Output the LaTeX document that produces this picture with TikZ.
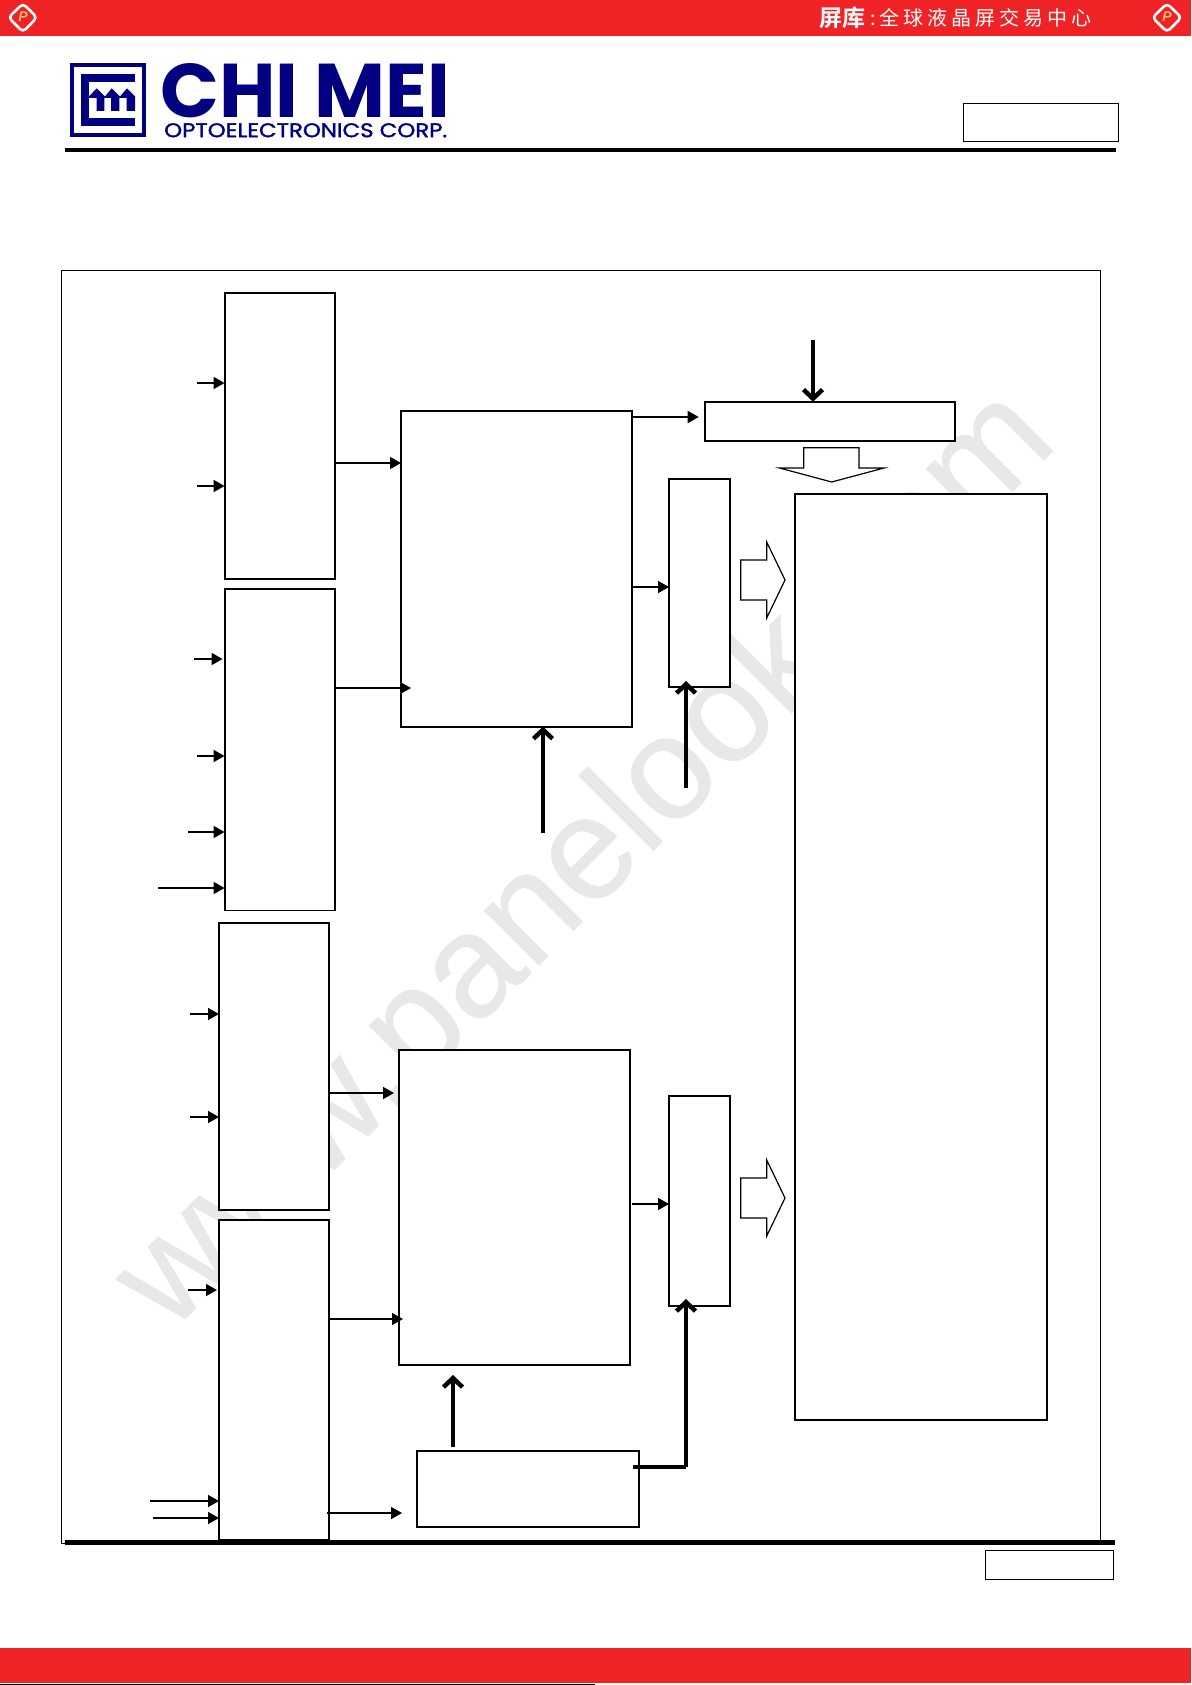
\documentclass[tikz,border=0pt]{standalone}
\usepackage{fontspec}
\usetikzlibrary{arrows.meta}
\setmainfont{Liberation Sans}
\newfontfamily\wmfont[FakeBold=0.5]{Liberation Sans}
\newfontfamily\cjk[LetterSpace=20]{Noto Sans CJK SC}
\newfontfamily\cjkb[BoldFont={Noto Sans CJK SC Bold}]{Noto Sans CJK SC}
\newfontfamily\logofont{Poppins}
\newfontfamily\logosub[FakeBold=1.5]{Poppins}
\definecolor{bandred}{RGB}{239,35,38}
\definecolor{logonavy}{RGB}{0,0,128}
\definecolor{wmgray}{RGB}{232,232,232}
\tikzset{
  blockbox/.style={draw=black,fill=white,line width=1.9pt,minimum width=#1,inner sep=0pt,outer sep=0pt,anchor=north west},
  framebox/.style={draw=black,line width=1pt,inner sep=0pt,outer sep=0pt},
  thinarrow/.style={line width=1.5pt,-{Triangle[length=11pt,width=12pt]}},
  thickarrow/.style={line width=4.5pt,-{Straight Barb[length=9pt,width=19pt,line width=4.5pt]}},
  blockarrow/.style={draw=black,fill=white,line width=1.2pt,line join=miter},
  badge/.style={draw=white,line width=2.6pt,rounded corners=4pt,fill=bandred},
  badgep/.style={text=orange!55!white,font=\itshape\bfseries\fontsize{14}{14}\selectfont}
}
\newcommand{\mkbox}[5]{\node[blockbox=#4-#2,minimum height=#5-#3] (#1) at (#2,#3) {};}
\begin{document}
\begin{tikzpicture}[x=1pt,y=-1pt]
\useasboundingbox (0,0) rectangle (1191,1685);
% watermark
\node[text=wmgray,rotate=45,anchor=base,font=\wmfont\fontsize{146}{146}\selectfont] (wm) at (615,889) {www.panelook.com};
% bands
\fill[bandred] (0,0) rectangle (1191,36);
\fill[bandred] (0,1648) rectangle (1191,1683);
\draw[black,line width=0.8pt] (0,1684.5) -- (595,1684.5);
\draw[badge] (23,3.5) -- (37,17.5) -- (23,32) -- (8.5,17.5) -- cycle;
\node[badgep] (pa) at (23,17) {P};
\draw[badge] (1167,3.5) -- (1181.5,17.5) -- (1167,32) -- (1152.5,17.5) -- cycle;
\node[badgep] (pb) at (1167,17) {P};
\node[text=white,anchor=west,inner sep=0pt,font=\cjkb\bfseries\fontsize{23}{23}\selectfont] (hd) at (819,18) {屏库};
\node[text=white,anchor=west,inner sep=0pt,font=\cjk\fontsize{20}{20}\selectfont] (hc) at (870,18) {:全球液晶屏交易中心};
% logo
\draw[logonavy,line width=4pt] (72,65.3) rectangle (144,134.7);
\draw[logonavy,line width=8pt] (135,78.3) -- (85,78.3) -- (85,121.7) -- (135,121.7);
\fill[logonavy] (89,96.5) -- (96.7,88.3) -- (105,96.5) -- (111.7,88.3) -- (120,96.5) -- (127,88.3) -- (135,96.5) -- (135,111) -- (126.7,111) -- (126.7,98) -- (119.3,98) -- (119.3,111) -- (111,111) -- (111,98) -- (104.3,98) -- (104.3,111) -- (96.7,111) -- (96.7,98) -- (89,98) -- cycle;
\node[text=logonavy,anchor=north west,inner sep=0pt] (lg) at (160,63) {\resizebox{290pt}{54pt}{\logofont\bfseries CHI MEI}};
\node[text=logonavy,anchor=north west,inner sep=0pt] (lo) at (164,123) {\resizebox{283pt}{14pt}{\logosub OPTOELECTRONICS CORP.}};
% rules and frames
\node[framebox,minimum width=155pt,minimum height=38pt,anchor=north west] (hdrbox) at (963,104) {};
\fill[black] (65,148) rectangle (1116,152);
\draw[framebox] (61,271) rectangle (1100,1543);
% blocks
\mkbox{a}{224.6}{292.9}{335.4}{579.4}
\mkbox{b}{224.6}{589}{335.4}{910.5}
\mkbox{c}{219}{923}{329}{1210}
\mkbox{d}{219}{1220}{329}{1540}
\mkbox{e}{401}{410.6}{632}{726.6}
\mkbox{f}{399}{1050}{630}{1365}
\mkbox{g}{417}{1451}{639}{1527}
\mkbox{t}{704.7}{401.7}{955}{441}
\mkbox{s}{669}{479}{730}{687}
\mkbox{u}{669}{1096}{730}{1306}
\mkbox{p}{795}{493.7}{1047}{1420}
\fill[black] (65,1540) rectangle (1115,1545);
\node[framebox,minimum width=128.5pt,minimum height=29pt,anchor=north west] (ftrbox) at (985,1550) {};
% block arrows
\draw[blockarrow] (803.7,468) -- (803.7,447.7) -- (859,447.7) -- (859,468) -- (884,468) -- (831.7,482) -- (779.5,468) -- cycle;
\draw[blockarrow] (740.7,560) -- (766.7,560) -- (766.7,542) -- (785,580) -- (766.7,618) -- (766.7,600) -- (740.7,600) -- cycle;
\draw[blockarrow] (740.7,1178) -- (766.7,1178) -- (766.7,1160) -- (785,1198) -- (766.7,1236) -- (766.7,1218) -- (740.7,1218) -- cycle;
% free ends
\coordinate (i1) at (197,383);
\coordinate (i2) at (197,486);
\coordinate (i3) at (194,659);
\coordinate (i4) at (197,756);
\coordinate (i5) at (188,832);
\coordinate (i6) at (158,888);
\coordinate (i7) at (190,1014);
\coordinate (i8) at (190,1117);
\coordinate (i9) at (188,1290);
\coordinate (i10) at (150,1501);
\coordinate (i11) at (153,1518);
\coordinate (k1) at (543,833);
\coordinate (k2) at (686,788);
\coordinate (k3) at (813,340);
% inputs
\draw[thinarrow] (i1) -- (i1 -| a.west);
\draw[thinarrow] (i2) -- (i2 -| a.west);
\draw[thinarrow] (i3) -- ([xshift=-2pt]i3 -| b.west);
\draw[thinarrow] (i4) -- (i4 -| b.west);
\draw[thinarrow] (i5) -- (i5 -| b.west);
\draw[thinarrow] (i6) -- (i6 -| b.west);
\draw[thinarrow] (i7) -- (i7 -| c.west);
\draw[thinarrow] (i8) -- (i8 -| c.west);
\draw[thinarrow] (i9) -- ([xshift=-2pt]i9 -| d.west);
\draw[thinarrow] (i10) -- (i10 -| d.west);
\draw[thinarrow] (i11) -- (i11 -| d.west);
% between blocks
\coordinate (m1) at (335.4,463);
\coordinate (m2) at (335.4,688);
\coordinate (m3) at (329,1093);
\coordinate (m4) at (329,1319);
\coordinate (m5) at (327,1513);
\coordinate (m6) at (632,417);
\coordinate (m7) at (632,587);
\coordinate (m8) at (632,1204);
\draw[thinarrow] (m1) -- (m1 -| e.west);
\draw[thinarrow] (m2) -- ([xshift=10pt]m2 -| e.west);
\draw[thinarrow] (m3) -- ([xshift=-5pt]m3 -| f.west);
\draw[thinarrow] (m4) -- ([xshift=4pt]m4 -| f.west);
\draw[thinarrow] (m5) -- ([xshift=-15pt]m5 -| g.west);
\draw[thinarrow] (m6) -- ([xshift=-6pt]m6 -| t.west);
\draw[thinarrow] (m7) -- (m7 -| s.west);
\draw[thinarrow] (m8) -- (m8 -| u.west);
% thick arrows
\coordinate (g1) at (453,1447);
\coordinate (f1) at (453,1375);
\coordinate (g2) at (633,1467);
\coordinate (u1) at (686,1467);
\draw[thickarrow] (k1) -- (k1 |- e.south);
\draw[thickarrow] (k2) -- ([yshift=6pt]k2 |- s.south);
\draw[thickarrow] (k3) -- (k3 |- t.north);
\draw[thickarrow] (g1) -- (f1);
\draw[line width=4.5pt] (g2) -- (u1);
\draw[thickarrow] (u1) -- ([yshift=7pt]u1 |- u.south);
\end{tikzpicture}
\end{document}
